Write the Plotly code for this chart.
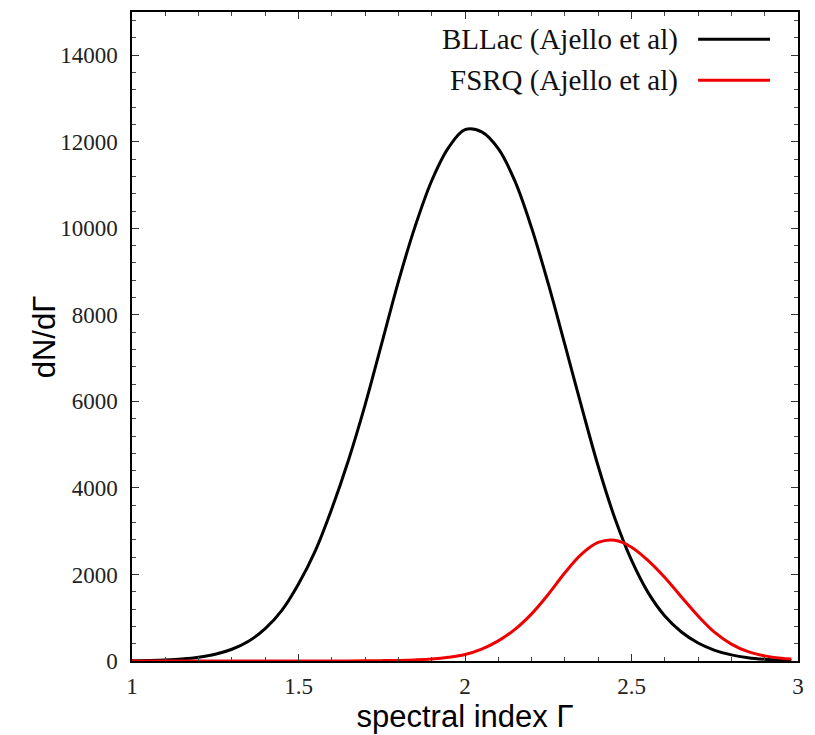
import plotly.graph_objects as go

# Spectral index grid and source-count distributions dN/dGamma
gamma = [1.00, 1.05, 1.10, 1.15, 1.20, 1.25, 1.30, 1.35, 1.40, 1.45,
         1.50, 1.55, 1.60, 1.65, 1.70, 1.75, 1.80, 1.85, 1.90, 1.95,
         2.00, 2.05, 2.10, 2.15, 2.20, 2.25, 2.30, 2.35, 2.40, 2.45,
         2.50, 2.55, 2.60, 2.65, 2.70, 2.75, 2.80, 2.85, 2.90, 2.95, 2.98]

bllac = [8, 13, 24, 46, 86, 155, 272, 457, 746, 1170,
         1780, 2540, 3520, 4640, 5920, 7340, 8770, 10040, 11100, 11860,
         12280, 12230, 11840, 11090, 10010, 8720, 7310, 5880, 4500, 3300,
         2330, 1580, 1040, 670, 415, 247, 141, 77, 41, 21, 14]

fsrq = [0, 0, 0, 0, 0, 0, 0, 0, 0, 0,
        0, 0, 1, 2, 4, 8, 14, 26, 46, 85,
        150, 275, 465, 730, 1090, 1540, 2040, 2470, 2740, 2790,
        2630, 2320, 1930, 1480, 1040, 660, 390, 215, 118, 64, 45]

series_names = ["BLLac (Ajello et al)", "FSRQ (Ajello et al)"]
series_colors = ["#000000", "#ee0000"]

x_ticks = [1, 1.5, 2, 2.5, 3]
x_ticklabels = ["1", "1.5", "2", "2.5", "3"]
y_ticks = [0, 2000, 4000, 6000, 8000, 10000, 12000, 14000]

SERIF = "Liberation Serif"
SANS = "Liberation Sans"

fig = go.Figure()
for name, vals, col in zip(series_names, [bllac, fsrq], series_colors):
    fig.add_trace(go.Scatter(
        x=gamma, y=vals, name=name, mode="lines",
        line=dict(color=col, width=3, shape="spline", smoothing=1.0),
        showlegend=False,
    ))

axis_common = dict(
    showline=True, linecolor="black", linewidth=1.5, mirror="allticks",
    ticks="inside", ticklen=7, tickwidth=1, tickcolor="#333",
    showgrid=False, zeroline=False, automargin=False,
    tickfont=dict(family=SERIF, size=23, color="#222"),
)

fig.update_xaxes(
    **axis_common, range=[1, 3], tickvals=x_ticks, ticktext=x_ticklabels,
    minor=dict(ticks="inside", ticklen=4, dtick=0.1, tickcolor="#444", showgrid=False),
    ticklabelstandoff=4,
    title=dict(text="spectral index Γ", font=dict(family=SANS, size=31, color="black"), standoff=4),
)
fig.update_yaxes(
    **axis_common, range=[0, 15000], tickvals=y_ticks, tickformat="d",
    minor=dict(ticks="inside", ticklen=4, dtick=400, tickcolor="#444", showgrid=False),
    ticklabelstandoff=8,
)

# Vertical axis label
fig.add_annotation(
    x=-0.131, y=0.5, xref="paper", yref="paper", text="dN/dΓ", textangle=-90,
    showarrow=False, xanchor="center", yanchor="middle",
    font=dict(family=SANS, size=31, color="black"),
)

# Legend drawn in the upper right: right-aligned label followed by a line sample
legend_rows_y = [0.958, 0.895]
for name, col, yy in zip(series_names, series_colors, legend_rows_y):
    fig.add_annotation(
        x=0.823, y=yy, xref="paper", yref="paper", text=name, showarrow=False,
        xanchor="right", yanchor="middle",
        font=dict(family=SERIF, size=29, color="#111"),
    )
    fig.add_shape(
        type="line", xref="paper", yref="paper", x0=0.850, x1=0.958, y0=yy, y1=yy,
        line=dict(color=col, width=3),
    )

fig.update_layout(
    width=815, height=735,
    margin=dict(l=132, r=17, t=12, b=74),
    paper_bgcolor="white", plot_bgcolor="white",
)

fig.write_html("out.html")
